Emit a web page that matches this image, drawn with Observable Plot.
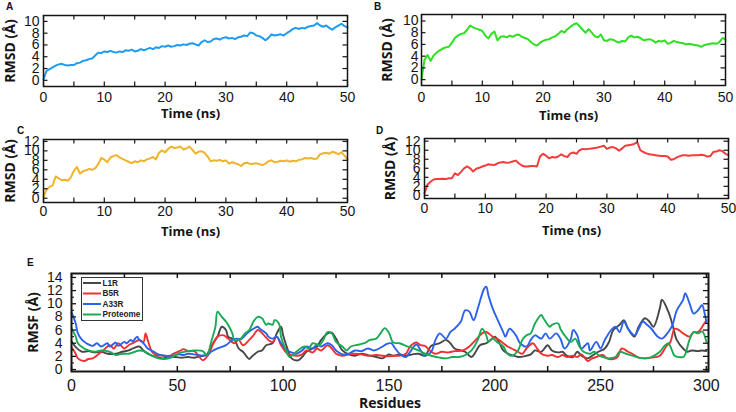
<!DOCTYPE html>
<html><head><meta charset="utf-8">
<script src="https://cdn.jsdelivr.net/npm/d3@7"></script>
<script src="https://cdn.jsdelivr.net/npm/@observablehq/plot@0.6"></script>
<style>
body{margin:0;background:#fff;}
#wrap{position:relative;width:736px;height:412px;overflow:hidden;background:#fff;}
.letter{position:absolute;font:bold 10px "Liberation Sans",Arial,sans-serif;color:#111;}
</style></head><body><div id="wrap"></div>
<script>
// ---------- data ----------
const timeTicks = [0, 10, 20, 30, 40, 50];
const timeMinorTicks = [0, 5, 10, 15, 20, 25, 30, 35, 40, 45, 50];
const timeStep = 0.5; // ns between samples
const rmsdA = [0.2,1.6,1.9,2.2,2.5,2.7,2.8,2.6,2.5,2.6, 2.6,2.9,3.0,3.3,3.4,3.6,3.7,4.2,4.7,4.6,
  4.9,4.8,5.0,4.8,4.7,4.9,4.8,5.1,5.0,5.2, 4.9,5.0,5.3,5.1,5.3,5.5,5.3,5.6,5.5,5.8,
  5.7,5.9,5.7,5.8,6.0,5.9,6.1,6.0,6.2,6.3, 6.1,5.9,6.5,6.8,6.5,6.6,7.0,7.1,6.9,7.2,
  7.3,7.1,7.2,7.0,7.3,7.4,7.6,7.5,8.1,8.0, 7.6,7.5,7.2,6.8,7.2,7.8,7.6,7.7,7.8,7.6,
  8.0,8.3,8.7,8.9,8.7,8.9,8.8,9.1,9.2,9.3, 9.7,9.3,9.1,9.3,8.9,8.6,9.0,9.3,9.6,9.2, 9.0];
const rmsdB = [0.1,3.4,4.2,3.2,4.1,4.6,5.0,5.3,5.5,5.6, 6.3,7.1,7.5,7.8,7.9,8.5,9.2,8.9,8.7,8.5,
  8.3,7.5,7.0,7.8,8.2,6.7,7.3,7.4,7.2,7.5, 7.3,7.6,7.7,7.3,7.1,6.9,6.4,6.0,5.8,6.3,
  6.6,6.8,6.9,7.2,7.4,7.8,8.3,8.0,8.6,9.0, 9.4,9.6,9.1,8.5,8.0,8.6,8.0,7.4,7.2,7.7,
  6.7,6.6,6.9,6.8,6.5,6.3,6.6,6.5,7.2,7.5, 7.2,7.3,7.1,6.7,6.8,6.9,6.7,6.3,6.6,6.5,
  6.7,6.1,6.3,6.6,6.4,6.3,6.2,6.0,6.1,6.0, 5.9,5.8,5.6,5.9,6.0,6.1,6.2,6.1,6.4,7.1, 6.8];
const rmsdC = [0.3,1.8,2.4,2.7,4.6,4.2,3.8,3.9,3.7,4.4, 5.8,6.6,5.2,5.7,5.9,6.2,6.0,6.3,7.2,8.5,
  8.2,7.6,8.6,8.9,9.1,8.6,8.3,8.0,7.7,7.4, 7.8,7.6,8.0,7.8,8.2,8.4,8.7,8.2,9.6,10.1,
  9.7,10.4,10.9,10.6,10.7,10.9,10.3,10.5,10.9,10.2, 9.4,9.8,9.9,9.6,8.8,7.8,8.0,7.9,8.1,7.8,
  8.0,7.3,7.6,7.4,7.2,6.8,7.4,7.5,7.2,7.3, 7.4,7.2,7.0,7.3,7.8,8.0,7.6,7.7,7.9,7.8,
  8.0,7.7,7.9,7.8,8.1,8.2,8.5,8.4,8.5,8.3, 8.4,9.3,9.5,9.6,9.4,9.8,9.6,9.3,9.7,9.0, 8.2];
const rmsdD = [0.5,2.4,3.0,3.5,3.6,3.6,3.7,3.6,3.8,3.8, 4.9,4.5,5.2,6.0,6.4,6.0,5.3,5.9,6.1,6.4,
  6.6,6.9,6.8,6.7,7.1,7.3,7.4,7.2,7.3,7.5, 7.7,7.1,6.6,6.4,6.4,6.5,6.5,6.4,8.6,9.2,
  8.8,8.2,8.5,8.4,8.6,9.1,8.7,8.5,9.3,9.5, 9.2,10.0,10.3,10.2,10.3,10.4,10.5,10.6,10.8,11.0,
  10.3,10.6,10.7,10.4,9.9,10.4,11.0,11.1,11.2,11.4, 11.8,10.0,9.6,9.3,9.1,9.0,8.9,8.8,8.7,8.7,
  8.6,7.9,8.0,8.4,8.7,8.9,8.9,8.8,8.9,8.9, 8.9,9.0,8.9,8.6,8.7,9.6,9.7,10.0,9.8,9.2, 8.9];

const residueTicks = [0, 50, 100, 150, 200, 250, 300];
const residueMinorTicks = [0, 25, 50, 75, 100, 125, 150, 175, 200, 225, 250, 275, 300];
const rmsfTicks = [0, 2, 4, 6, 8, 10, 12, 14];
const rmsfMinorTicks = [1, 3, 5, 7, 9, 11, 13];
const seriesNames = ["L1R", "B5R", "A33R", "Proteome"];
const seriesColors = ["#474747", "#f03030", "#2a62ee", "#1aaa55"];
// [residue, RMSF]
const rmsfL1R = [[0,4.3],[2,3.4],[5,2.7],[8,2.8],[11,2.6],[14,2.7],[17,2.4],[21,2.4],[24,2.7],[27,2.9],[29,3.2],[32,3.5],[34,2.9],[36,2.4],[40,1.9],[43,1.7],[46,1.9],[49,1.9],[52,1.8],[55,1.9],[58,1.8],[62,2.1],[64,2.3],[66,3.5],[69,5.0],[71,6.5],[73,6.0],[74,5.0],[77,4.5],[79,3.2],[81,2.7],[84,1.6],[85,1.9],[88,2.7],[90,2.9],[92,3.7],[95,4.0],[97,5.5],[99,6.5],[100,5.2],[102,3.2],[104,1.7],[107,1.4],[109,1.9],[111,2.7],[114,3.2],[116,3.5],[118,4.5],[121,5.5],[123,5.6],[125,4.7],[128,2.9],[131,2.3],[134,2.1],[137,2.4],[140,2.2],[144,1.9],[147,1.7],[150,2.3],[152,2.1],[155,2.3],[158,2.1],[161,2.3],[164,2.4],[167,2.1],[170,3.6],[174,4.0],[177,4.5],[179,4.0],[181,3.2],[184,2.9],[186,2.7],[189,1.9],[191,2.7],[193,3.7],[196,4.0],[198,4.5],[200,5.0],[202,4.2],[204,2.9],[207,2.3],[209,2.1],[211,1.9],[215,2.1],[217,2.3],[219,2.9],[222,2.7],[225,3.7],[227,2.9],[230,2.6],[232,2.7],[234,2.1],[237,1.9],[239,2.7],[241,2.1],[244,1.7],[246,2.1],[249,2.7],[252,3.2],[254,4.2],[256,6.0],[259,6.8],[261,7.5],[263,6.2],[266,5.0],[268,6.5],[271,7.8],[273,7.3],[275,6.5],[278,9.3],[279,10.6],[282,8.8],[284,6.8],[286,4.5],[289,3.2],[291,2.7],[293,2.9],[296,2.8],[298,2.9],[300,2.8]];
const rmsfB5R = [[0,3.4],[2,2.4],[3,1.7],[6,1.3],[8,1.6],[10,1.7],[13,2.4],[15,2.9],[18,3.7],[20,3.2],[22,4.0],[25,3.2],[27,3.7],[29,4.0],[32,4.5],[34,4.2],[35,5.5],[36,4.5],[38,2.7],[40,2.2],[44,2.1],[46,1.9],[48,2.4],[51,2.8],[53,3.1],[55,2.8],[58,2.8],[60,2.1],[62,1.4],[65,2.4],[67,4.0],[69,5.0],[72,5.2],[74,4.7],[77,4.0],[79,4.5],[81,3.7],[84,4.5],[86,5.2],[88,6.0],[91,5.2],[93,4.5],[95,4.2],[97,5.0],[99,3.7],[102,2.4],[104,2.2],[107,2.1],[109,2.3],[111,2.9],[114,2.6],[116,3.2],[118,2.9],[121,3.7],[123,3.2],[125,2.4],[128,2.1],[131,2.3],[134,2.4],[137,2.3],[140,2.1],[144,2.2],[147,2.1],[150,2.0],[152,2.1],[155,2.1],[158,2.4],[160,3.5],[163,4.1],[165,3.7],[167,3.6],[170,2.7],[172,2.4],[175,2.7],[178,2.6],[181,2.8],[185,2.9],[188,3.5],[191,4.5],[194,5.5],[196,5.7],[199,5.0],[201,4.7],[204,4.0],[206,3.5],[208,3.2],[211,2.7],[213,2.4],[215,3.2],[218,4.0],[220,3.2],[222,2.4],[225,2.1],[227,2.2],[230,1.9],[232,2.2],[234,1.9],[237,2.1],[239,1.9],[241,2.3],[244,1.3],[246,1.7],[248,1.9],[251,2.2],[253,1.7],[256,1.6],[258,1.9],[260,3.2],[263,2.7],[265,2.4],[268,1.8],[271,1.7],[274,1.8],[278,2.1],[281,3.5],[283,4.2],[285,6.2],[287,6.0],[289,5.5],[292,5.0],[294,5.7],[296,5.7],[299,7.0],[300,7.5]];
const rmsfA33R = [[0,8.7],[2,7.0],[3,5.5],[5,4.5],[7,4.0],[10,3.6],[12,4.0],[14,3.5],[17,4.0],[18,3.5],[21,4.1],[22,3.6],[25,4.2],[26,4.0],[28,4.5],[29,4.3],[31,5.0],[32,4.5],[34,4.0],[36,3.2],[39,2.7],[41,2.3],[44,2.1],[47,2.1],[51,2.3],[53,2.2],[55,2.4],[58,2.3],[62,2.1],[64,2.2],[66,2.7],[69,3.2],[73,3.7],[76,4.5],[78,4.7],[80,4.6],[83,5.5],[85,6.0],[88,6.5],[89,6.2],[92,5.5],[93,5.0],[95,4.7],[97,5.0],[99,4.0],[102,2.9],[104,2.6],[106,2.4],[109,2.9],[111,3.5],[114,3.2],[116,3.8],[118,3.5],[121,4.0],[123,3.7],[125,2.9],[128,2.3],[131,2.4],[134,2.9],[137,2.8],[140,3.2],[143,2.9],[147,3.5],[149,3.9],[151,4.0],[153,3.2],[155,2.4],[158,1.9],[160,2.7],[163,3.8],[165,2.9],[167,2.1],[170,2.7],[172,4.5],[174,5.5],[177,4.7],[179,5.7],[181,6.2],[184,7.3],[186,9.0],[188,8.8],[190,7.5],[192,9.3],[195,12.3],[196,12.6],[197,11.3],[199,9.3],[201,7.8],[204,5.7],[205,5.0],[207,6.2],[210,5.2],[212,4.0],[215,3.5],[217,4.5],[219,5.2],[222,4.7],[224,5.5],[226,4.7],[229,5.5],[231,4.7],[233,3.2],[236,4.7],[237,6.0],[239,5.2],[241,3.2],[244,4.0],[245,2.9],[248,4.2],[250,3.2],[252,4.5],[255,6.0],[257,6.5],[259,5.7],[261,7.3],[263,6.2],[266,5.2],[268,6.2],[270,7.3],[272,6.8],[274,6.2],[277,5.0],[279,4.7],[282,5.7],[284,6.8],[286,9.0],[289,10.6],[290,11.6],[292,10.1],[294,8.5],[296,9.0],[298,9.8],[299,8.8],[300,7.2]];
const rmsfProteome = [[0,6.3],[2,5.0],[3,4.0],[6,3.2],[8,2.9],[11,2.7],[14,2.9],[18,2.7],[21,2.2],[24,2.4],[27,2.4],[30,2.7],[32,2.9],[35,2.7],[38,2.1],[41,1.7],[44,1.6],[47,1.8],[49,2.2],[52,2.6],[55,2.8],[58,2.9],[62,2.8],[64,2.2],[66,4.2],[68,6.5],[69,8.8],[71,8.0],[73,7.3],[74,6.8],[76,5.5],[77,4.5],[80,4.7],[82,5.5],[84,6.0],[86,7.3],[88,8.0],[90,7.8],[92,6.8],[93,7.0],[95,6.8],[96,7.5],[98,7.0],[99,5.0],[101,3.2],[103,1.9],[105,2.4],[107,2.9],[110,3.5],[112,3.2],[114,4.0],[117,3.7],[119,4.5],[121,5.7],[123,5.5],[125,4.2],[128,3.5],[130,2.9],[132,3.5],[136,3.8],[139,4.1],[141,4.5],[144,4.7],[146,5.5],[148,6.3],[150,5.6],[152,4.1],[155,4.0],[158,3.6],[161,3.3],[164,2.9],[167,2.4],[170,2.1],[174,1.8],[177,1.7],[180,1.9],[183,1.9],[186,2.2],[189,2.9],[192,4.5],[194,6.2],[196,5.2],[197,4.2],[199,4.7],[201,4.2],[204,3.5],[206,2.4],[208,2.1],[211,2.9],[213,4.5],[215,5.2],[217,5.5],[219,7.0],[222,8.3],[223,7.8],[226,6.5],[227,6.8],[230,7.0],[231,6.2],[233,5.2],[236,4.2],[238,4.7],[240,3.5],[242,2.7],[245,2.4],[247,2.7],[249,2.2],[252,1.8],[254,1.7],[257,1.9],[259,2.7],[262,2.4],[265,2.1],[268,1.8],[271,1.7],[274,1.9],[278,2.7],[280,3.5],[282,4.0],[284,2.7],[285,2.1],[289,1.9],[290,2.3],[292,4.5],[294,5.7],[296,5.5],[298,5.8],[300,4.2]];

const timeLabel = "Time (ns)";
const rmsdLabel = "RMSD (Å)";
const residueLabel = "Residues";
const rmsfLabel = "RMSF (Å)";

// ---------- drawing ----------
const ink = "#151515";
const tickFont = "'Liberation Sans', Arial, sans-serif";
const titleFont = "'Open Sans', 'DejaVu Sans', sans-serif";
const wrap = document.getElementById("wrap");
function place(node, left, top) {
  node.style.position = "absolute"; node.style.left = left + "px"; node.style.top = top + "px";
  wrap.appendChild(node);
}
function letter(txt, left, top) {
  const d = document.createElement("div"); d.className = "letter"; d.textContent = txt;
  d.style.left = left + "px"; d.style.top = top + "px"; wrap.appendChild(d);
}

function rmsdPanel(cfg) {
  const xd = [0, 50], yd = cfg.yDomain;
  const fw = cfg.width - cfg.ml - cfg.mr, fh = cfg.height - cfg.mt - cfg.mb;
  const kx = 4.5 * (xd[1] - xd[0]) / fw, ky = 4.5 * (yd[1] - yd[0]) / fh;
  const data = cfg.values.map((v, i) => ({t: i * timeStep, v}));
  const p = Plot.plot({
    width: cfg.width, height: cfg.height,
    marginLeft: cfg.ml, marginRight: cfg.mr, marginTop: cfg.mt, marginBottom: cfg.mb,
    x: {domain: xd}, y: {domain: yd},
    style: {fontFamily: tickFont, fontSize: "14px", color: ink, background: "transparent", overflow: "visible"},
    marks: [
      Plot.line(data, {x: "t", y: "v", stroke: cfg.color, strokeWidth: 2}),
      Plot.ruleX(timeMinorTicks, {x: d => d, y1: yd[0], y2: yd[0] + ky, stroke: ink, strokeWidth: 1.2}),
      Plot.ruleX(timeMinorTicks, {x: d => d, y1: yd[1] - ky, y2: yd[1], stroke: ink, strokeWidth: 1.2}),
      Plot.ruleY(cfg.yTicks, {y: d => d, x1: xd[0], x2: xd[0] + kx, stroke: ink, strokeWidth: 1.2}),
      Plot.ruleY(cfg.yTicks, {y: d => d, x1: xd[1] - kx, x2: xd[1], stroke: ink, strokeWidth: 1.2}),
      Plot.frame({stroke: ink, strokeWidth: 1.5}),
      Plot.axisX(timeTicks, {tickSize: 0, tickPadding: cfg.xPad, fontSize: 14, label: null}),
      Plot.axisY(cfg.yTicks, {tickSize: 0, tickPadding: cfg.yPad, fontSize: 14, label: null}),
      Plot.text([timeLabel], {text: d => d, frameAnchor: "bottom", lineAnchor: "middle", textAnchor: "middle",
        dy: cfg.tDy, dx: -5, fontWeight: "bold", fontSize: 13, fontFamily: titleFont}),
      Plot.text([rmsdLabel], {text: d => d, frameAnchor: "left", textAnchor: "middle", lineAnchor: "middle",
        dx: cfg.yDx, rotate: -90, fontWeight: "bold", fontSize: 14, fontFamily: titleFont})
    ]
  });
  place(p, cfg.left, cfg.top);
}

rmsdPanel({values: rmsdA, color: "#1f9cf0", left: 0, top: 0, width: 360, height: 122, ml: 43, mr: 13, mt: 15, mb: 36,
  yDomain: [-1.05, 11.0], yTicks: [0, 2, 4, 6, 8, 10], xPad: 6, yPad: 4, tDy: 27, yDx: -33});
rmsdPanel({values: rmsdB, color: "#2ee022", left: 370, top: 0, width: 366, height: 122, ml: 51, mr: 11, mt: 14, mb: 37,
  yDomain: [-1.0, 11.1], yTicks: [0, 2, 4, 6, 8, 10], xPad: 7, yPad: 3, tDy: 30, yDx: -34});
rmsdPanel({values: rmsdC, color: "#f0b42a", left: 0, top: 122, width: 360, height: 118, ml: 43, mr: 13, mt: 17, mb: 38,
  yDomain: [-0.9, 12.4], yTicks: [0, 2, 4, 6, 8, 10, 12], xPad: 4, yPad: 4, tDy: 29, yDx: -33});
rmsdPanel({values: rmsdD, color: "#f53c3c", left: 370, top: 122, width: 366, height: 118, ml: 54, mr: 8, mt: 16, mb: 42,
  yDomain: [-0.7, 12.6], yTicks: [0, 2, 4, 6, 8, 10, 12], xPad: 5, yPad: 4, tDy: 32, yDx: -34});

// Panel E
(function () {
  const W = 736, H = 172, ml = 71, mr = 28, mt = 33, mb = 41;
  const xd = [0, 301], yd = [-0.3, 14.6];
  const kx = 5 * (xd[1] - xd[0]) / (W - ml - mr), ky = 5 * (yd[1] - yd[0]) / (H - mt - mb);
  const kx2 = 3 * (xd[1] - xd[0]) / (W - ml - mr);
  const all = [rmsfL1R, rmsfB5R, rmsfA33R, rmsfProteome];
  const lines = all.map((s, i) => Plot.line(s.map(([r, v]) => ({r, v})),
    {x: "r", y: "v", stroke: seriesColors[i], strokeWidth: 1.9, curve: "catmull-rom"}));
  const p = Plot.plot({
    width: W, height: H, marginLeft: ml, marginRight: mr, marginTop: mt, marginBottom: mb,
    x: {domain: xd}, y: {domain: yd},
    style: {fontFamily: tickFont, fontSize: "14px", color: ink, background: "transparent", overflow: "visible"},
    marks: [
      ...lines,
      Plot.ruleX(residueMinorTicks, {x: d => d, y1: yd[0], y2: yd[0] + ky, stroke: ink, strokeWidth: 1.5}),
      Plot.ruleX(residueMinorTicks, {x: d => d, y1: yd[1] - ky, y2: yd[1], stroke: ink, strokeWidth: 1.5}),
      Plot.ruleY(rmsfTicks, {y: d => d, x1: xd[0], x2: xd[0] + kx, stroke: ink, strokeWidth: 1.3}),
      Plot.ruleY(rmsfTicks, {y: d => d, x1: xd[1] - kx, x2: xd[1], stroke: ink, strokeWidth: 1.3}),
      Plot.ruleY(rmsfMinorTicks, {y: d => d, x1: xd[0], x2: xd[0] + kx2, stroke: ink, strokeWidth: 1.1}),
      Plot.ruleY(rmsfMinorTicks, {y: d => d, x1: xd[1] - kx2, x2: xd[1], stroke: ink, strokeWidth: 1.1}),
      Plot.frame({stroke: ink, strokeWidth: 2}),
      Plot.axisX(residueTicks, {tickSize: 0, tickPadding: 8, fontSize: 16, label: null}),
      Plot.axisY(rmsfTicks, {tickSize: 0, tickPadding: 9, fontSize: 14, label: null}),
      Plot.text([residueLabel], {text: d => d, frameAnchor: "bottom", lineAnchor: "middle", textAnchor: "middle",
        dy: 32, fontWeight: "bold", fontSize: 14, fontFamily: titleFont}),
      Plot.text([rmsfLabel], {text: d => d, frameAnchor: "left", textAnchor: "middle", lineAnchor: "middle",
        dx: -38, rotate: -90, fontWeight: "bold", fontSize: 14, fontFamily: titleFont})
    ]
  });
  place(p, 0, 240);

  // legend
  const lg = d3.create("svg").attr("width", 62).attr("height", 44);
  lg.append("rect").attr("x", 0.5).attr("y", 0.5).attr("width", 61).attr("height", 43)
    .attr("fill", "#fff").attr("stroke", "#333").attr("stroke-width", 1);
  seriesNames.forEach((name, i) => {
    const y = 6 + i * 10.5;
    lg.append("line").attr("x1", 2).attr("x2", 20).attr("y1", y).attr("y2", y)
      .attr("stroke", seriesColors[i]).attr("stroke-width", 2);
    lg.append("text").attr("x", 21.5).attr("y", y).attr("dy", "0.35em").text(name)
      .attr("font-family", tickFont).attr("font-weight", "bold").attr("font-size", 8.2).attr("fill", "#222");
  });
  place(lg.node(), 81, 277);
})();

letter("A", 6, 1);
letter("B", 374, 1);
letter("C", 17, 125);
letter("D", 376, 125);
letter("E", 27, 257);
</script>
</body></html>
